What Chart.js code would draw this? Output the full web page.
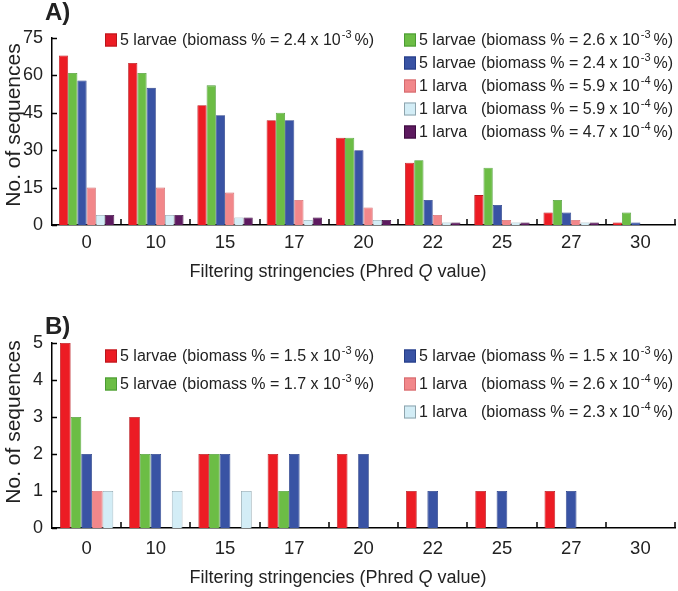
<!DOCTYPE html>
<html>
<head>
<meta charset="utf-8">
<script src="https://cdn.jsdelivr.net/npm/chart.js@4.4.0/dist/chart.umd.min.js"></script>
<style>
  html, body { margin: 0; padding: 0; background: #fff; }
  #wrap { position: relative; width: 678px; height: 591px; }
  .panel { position: absolute; left: 0; width: 678px; }
  #panelA { top: 0; height: 296px; }
  #panelB { top: 296px; height: 295px; }
</style>
</head>
<body>
<div id="wrap">
  <div class="panel" id="panelA"><canvas id="chartA"></canvas></div>
  <div class="panel" id="panelB"><canvas id="chartB"></canvas></div>
</div>
<script>
const stringencies = ["0", "10", "15", "17", "20", "22", "25", "27", "30"];

// panel A
const aRed    = [68, 65, 48, 42, 35, 25, 12, 5, 1];
const aGreen  = [61, 61, 56, 45, 35, 26, 23, 10, 5];
const aBlue   = [58, 55, 44, 42, 30, 10, 8, 5, 1];
const aPink   = [15, 15, 13, 10, 7, 4, 2, 2, 0];
const aLight  = [4, 4, 3, 2, 2, 1, 1, 1, 0];
const aPurple = [4, 4, 3, 3, 2, 1, 1, 1, 0];
const aNames    = ["5 larvae", "5 larvae", "5 larvae", "1 larva", "1 larva", "1 larva"];
const aBiomass  = ["2.4", "2.6", "2.4", "5.9", "5.9", "4.7"];
const aExponent = ["-3", "-3", "-3", "-4", "-4", "-4"];

// panel B
const bRed   = [5, 3, 2, 2, 2, 1, 1, 1, 0];
const bGreen = [3, 2, 2, 1, 0, 0, 0, 0, 0];
const bBlue  = [2, 2, 2, 2, 2, 1, 1, 1, 0];
const bPink  = [1, 0, 0, 0, 0, 0, 0, 0, 0];
const bLight = [1, 1, 1, 0, 0, 0, 0, 0, 0];
const bNames    = ["5 larvae", "5 larvae", "5 larvae", "1 larva", "1 larva"];
const bBiomass  = ["1.5", "1.7", "1.5", "2.6", "2.3"];
const bExponent = ["-3", "-3", "-3", "-4", "-4"];

const colors = {
  red:    ["#ec1c24", "#b8161c"],
  green:  ["#6cbd45", "#4a9a34"],
  blue:   ["#3953a4", "#253d86"],
  pink:   ["#f2878a", "#d46a6e"],
  light:  ["#d3edf6", "#8ea4ad"],
  purple: ["#5d1a5f", "#3d0c3f"]
};

const FONT = "'Liberation Sans', Arial, Helvetica, sans-serif";

function ds(label, data, c) {
  return { label: label, data: data, backgroundColor: c[0], borderColor: c[1], borderWidth: 0.8 };
}

// inward tick marks on both axes
const innerTicks = {
  id: "innerTicks",
  afterDraw(chart) {
    const ctx = chart.ctx;
    const x = chart.scales.x, y = chart.scales.y;
    ctx.save();
    ctx.strokeStyle = "#000";
    ctx.lineWidth = 1.5;
    y.ticks.forEach(t => {
      const py = Math.round(y.getPixelForValue(t.value)) + 0.5;
      ctx.beginPath();
      ctx.moveTo(x.left, py);
      ctx.lineTo(x.left + 5, py);
      ctx.stroke();
    });
    const step = x.getPixelForValue(1) - x.getPixelForValue(0);
    for (let i = 1; i <= stringencies.length; i++) {
      const px = Math.round(x.getPixelForValue(i) - step / 2);
      ctx.beginPath();
      ctx.moveTo(px, y.bottom);
      ctx.lineTo(px, y.bottom - 6);
      ctx.stroke();
    }
    ctx.restore();
  }
};

// legend with superscripts, axis titles and the panel letter
const sketchLegend = {
  id: "sketchLegend",
  afterDraw(chart, args, opts) {
    const ctx = chart.ctx;
    ctx.save();
    ctx.fillStyle = "#222";
    ctx.textBaseline = "middle";
    ctx.font = "bold 24px " + FONT;
    ctx.fillText(opts.letter, 45, opts.letterY);

    // x title with italic Q
    const parts = [["Filtering stringencies (Phred ", ""], ["Q", "italic "], [" value)", ""]];
    let total = 0;
    parts.forEach(p => { ctx.font = p[1] + "18px " + FONT; total += ctx.measureText(p[0]).width; });
    let tx = opts.xTitle[0] - total / 2;
    parts.forEach(p => {
      ctx.font = p[1] + "18px " + FONT;
      ctx.fillText(p[0], tx, opts.xTitle[1]);
      tx += ctx.measureText(p[0]).width;
    });

    // y title
    ctx.save();
    ctx.translate(14, opts.yTitleY);
    ctx.rotate(-Math.PI / 2);
    ctx.textAlign = "center";
    ctx.font = "21px " + FONT;
    ctx.fillText("No. of sequences", 0, 0);
    ctx.restore();

    chart.data.datasets.forEach((d, i) => {
      const pos = opts.slots[i];
      const bx = pos[0], by = pos[1];
      ctx.fillStyle = d.backgroundColor;
      ctx.strokeStyle = d.borderColor;
      ctx.lineWidth = 1;
      ctx.fillRect(bx, by - 6.5, 12, 13);
      ctx.strokeRect(bx + 0.5, by - 6, 11, 12);

      ctx.fillStyle = "#222";
      ctx.font = "16px " + FONT;
      ctx.fillText(opts.names[i], bx + 15, by + 1);
      let lx = bx + 77;
      const main = "(biomass % = " + opts.biomass[i] + " x 10";
      ctx.fillText(main, lx, by + 1);
      lx += ctx.measureText(main).width + 1;
      ctx.font = "11px " + FONT;
      ctx.fillText(opts.exponent[i], lx, by - 5);
      lx += ctx.measureText(opts.exponent[i]).width + 3;
      ctx.font = "16px " + FONT;
      ctx.fillText("%)", lx, by + 1);
    });
    ctx.restore();
  }
};

function makeOptions(yMax, yStep, padTop, xHeight, labelPad, legendOpts, barPct) {
  return {
    responsive: true,
    maintainAspectRatio: false,
    animation: false,
    layout: { padding: { top: padTop, right: 3, left: 0, bottom: 0 } },
    datasets: { bar: { categoryPercentage: barPct, barPercentage: 1 } },
    plugins: {
      legend: { display: false },
      tooltip: { enabled: false },
      sketchLegend: legendOpts
    },
    scales: {
      x: {
        grid: { display: false, drawTicks: false },
        border: { display: true, color: "#000", width: 1.5 },
        ticks: { color: "#222", font: { family: FONT, size: 18.5 }, padding: labelPad, maxRotation: 0 },
        afterFit: s => { s.height = xHeight; }
      },
      y: {
        min: 0,
        max: yMax,
        grid: { display: false, drawTicks: false },
        border: { display: true, color: "#000", width: 1.5 },
        ticks: { stepSize: yStep, color: "#222", font: { family: FONT, size: 18 }, padding: 9 },
        afterFit: s => { s.width = 52; }
      }
    }
  };
}

new Chart(document.getElementById("chartA"), {
  type: "bar",
  data: {
    labels: stringencies,
    datasets: [
      ds(aNames[0], aRed, colors.red),
      ds(aNames[1], aGreen, colors.green),
      ds(aNames[2], aBlue, colors.blue),
      ds(aNames[3], aPink, colors.pink),
      ds(aNames[4], aLight, colors.light),
      ds(aNames[5], aPurple, colors.purple)
    ]
  },
  options: makeOptions(75, 15, 38, 71, 7, {
    letter: "A)", letterY: 13, xTitle: [338, 272], yTitleY: 125,
    names: aNames, biomass: aBiomass, exponent: aExponent,
    slots: [[105, 40], [404, 40], [404, 63], [404, 86], [404, 109], [404, 132]]
  }, 0.8),
  plugins: [innerTicks, sketchLegend]
});

new Chart(document.getElementById("chartB"), {
  type: "bar",
  data: {
    labels: stringencies,
    datasets: [
      ds(bNames[0], bRed, colors.red),
      ds(bNames[1], bGreen, colors.green),
      ds(bNames[2], bBlue, colors.blue),
      ds(bNames[3], bPink, colors.pink),
      ds(bNames[4], bLight, colors.light)
    ]
  },
  options: makeOptions(5, 1, 47, 63, 10, {
    letter: "B)", letterY: 31, xTitle: [338, 282], yTitleY: 126,
    names: bNames, biomass: bBiomass, exponent: bExponent,
    slots: [[105, 60], [105, 88], [404, 60], [404, 88], [404, 116]]
  }, 0.77),
  plugins: [innerTicks, sketchLegend]
});
</script>
</body>
</html>
